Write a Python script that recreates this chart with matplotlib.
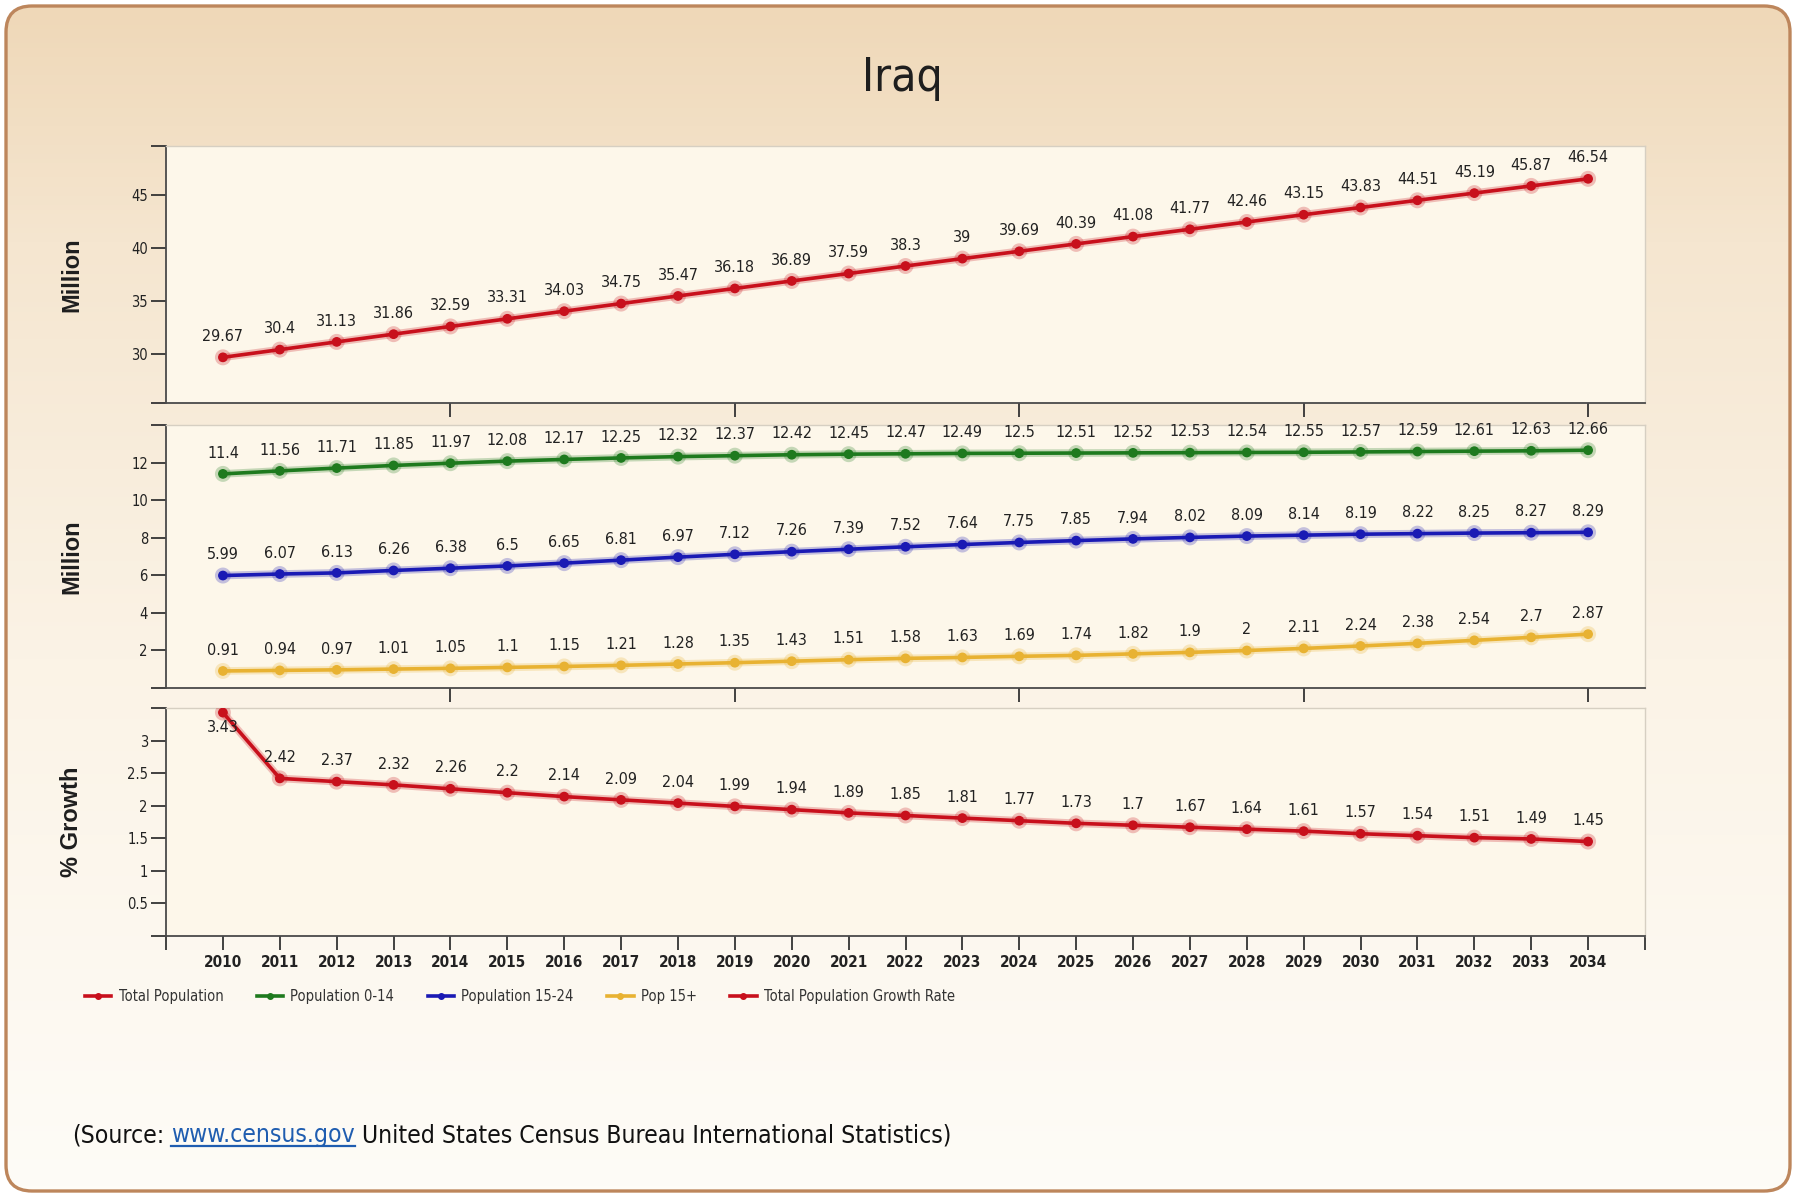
import matplotlib.pyplot as plt
import matplotlib.patheffects as pe
import numpy as np
from matplotlib.patches import FancyBboxPatch
from matplotlib.lines import Line2D
from matplotlib.colors import LinearSegmentedColormap

years = list(range(2010, 2035))

total_pop = [29.67, 30.4, 31.13, 31.86, 32.59, 33.31, 34.03, 34.75, 35.47, 36.18,
             36.89, 37.59, 38.3, 39, 39.69, 40.39, 41.08, 41.77, 42.46, 43.15,
             43.83, 44.51, 45.19, 45.87, 46.54]
pop_0_14 = [11.4, 11.56, 11.71, 11.85, 11.97, 12.08, 12.17, 12.25, 12.32, 12.37,
            12.42, 12.45, 12.47, 12.49, 12.5, 12.51, 12.52, 12.53, 12.54, 12.55,
            12.57, 12.59, 12.61, 12.63, 12.66]
pop_15_24 = [5.99, 6.07, 6.13, 6.26, 6.38, 6.5, 6.65, 6.81, 6.97, 7.12,
             7.26, 7.39, 7.52, 7.64, 7.75, 7.85, 7.94, 8.02, 8.09, 8.14,
             8.19, 8.22, 8.25, 8.27, 8.29]
pop_old = [0.91, 0.94, 0.97, 1.01, 1.05, 1.1, 1.15, 1.21, 1.28, 1.35,
           1.43, 1.51, 1.58, 1.63, 1.69, 1.74, 1.82, 1.9, 2, 2.11,
           2.24, 2.38, 2.54, 2.7, 2.87]
growth_rate = [3.43, 2.42, 2.37, 2.32, 2.26, 2.2, 2.14, 2.09, 2.04, 1.99,
               1.94, 1.89, 1.85, 1.81, 1.77, 1.73, 1.7, 1.67, 1.64, 1.61,
               1.57, 1.54, 1.51, 1.49, 1.45]

legend_names = ["Total Population", "Population 0-14", "Population 15-24",
                "Pop 15+", "Total Population Growth Rate"]

RED = "#c8101c"
GREEN = "#1e7a1e"
BLUE = "#1a1ab4"
GOLD = "#e8b232"

# condensed face if the system has it
plt.rcParams['font.family'] = ['DejaVu Sans']
plt.rcParams['font.stretch'] = 'condensed'

W, H = 1797, 1196
fig = plt.figure(figsize=(W / 100, H / 100), dpi=100)
fig.patch.set_facecolor('white')

# rounded background box with a vertical gradient
bg = fig.add_axes([0, 0, 1, 1], zorder=-5)
bg.set_xlim(0, W)
bg.set_ylim(0, H)
bg.axis('off')
box = FancyBboxPatch((6, 5), 1784, 1185, boxstyle="round,pad=0,rounding_size=26",
                     facecolor='none', edgecolor='#bd865c', linewidth=2.4, zorder=3)
bg.add_patch(box)
grad_cmap = LinearSegmentedColormap.from_list(
    'bgr', [(0, '#fefcf7'), (0.45, '#fbf3e6'), (0.8, '#f5e6d0'), (1, '#efd8b8')])
grad = np.linspace(0, 1, 256).reshape(-1, 1)
im = bg.imshow(grad, extent=(6, 1790, 5, 1190), origin='lower', aspect='auto',
               cmap=grad_cmap, zorder=1)
im.set_clip_path(box)

fig.text(0.502, 0.934, "Iraq", ha='center', va='center', fontsize=33, color='#1e1e1e')

left, width = 0.0924, 0.823
ax1 = fig.add_axes([left, 0.663, width, 0.215])
ax2 = fig.add_axes([left, 0.4247, width, 0.2199])
ax3 = fig.add_axes([left, 0.2174, width, 0.1906])


def style(ax, ylim, yticks, ylabels):
    ax.set_facecolor('#fdf7ea')
    ax.set_xlim(2009, 2035)
    ax.set_ylim(*ylim)
    for s in ['top', 'right']:
        ax.spines[s].set_color('#d6cfc2')
        ax.spines[s].set_linewidth(1.0)
    for s in ['left', 'bottom']:
        ax.spines[s].set_color('#4a4a4a')
        ax.spines[s].set_linewidth(1.3)
    ax.set_yticks(yticks)
    ax.set_yticklabels(ylabels)
    ax.tick_params(axis='y', direction='out', length=11, width=1.3, color='#333333',
                   labelsize=10.5, pad=2, labelcolor='#222222')
    ax.tick_params(axis='x', direction='out', length=10, width=1.3, color='#333333')


def draw(ax, vals, color, off):
    ax.plot(years, vals, color=color, lw=2.6, marker='o', ms=6, zorder=3,
            path_effects=[pe.Stroke(linewidth=5.5, foreground=color, alpha=0.25), pe.Normal()])
    for x, v in zip(years, vals):
        ax.annotate(f"{v:g}", (x, v), xytext=(0, off), textcoords='offset points',
                    ha='center', va='center', fontsize=11.5, color='#222222')


style(ax1, (25.35, 49.65), [25.35, 30, 35, 40, 45, 49.65], ['', '30', '35', '40', '45', ''])
style(ax2, (0, 14), [0, 2, 4, 6, 8, 10, 12, 14], ['', '2', '4', '6', '8', '10', '12', ''])
style(ax3, (0, 3.5), [0, 0.5, 1, 1.5, 2, 2.5, 3, 3.5],
      ['', '0.5', '1', '1.5', '2', '2.5', '3', ''])

for ax in (ax1, ax2):
    ax.set_xticks([2014, 2019, 2024, 2029, 2034])
    ax.set_xticklabels([])

ax3.set_xticks([2009] + years + [2035])
ax3.set_xticklabels([''] + [str(y) for y in years] + [''], fontsize=11,
                    fontweight='bold', color='#222222')

draw(ax1, total_pop, RED, 15)
draw(ax2, pop_0_14, GREEN, 15)
draw(ax2, pop_15_24, BLUE, 15)
draw(ax2, pop_old, GOLD, 15)

ax3.plot(years, growth_rate, color=RED, lw=2.6, marker='o', ms=6, zorder=3,
         path_effects=[pe.Stroke(linewidth=5.5, foreground=RED, alpha=0.25), pe.Normal()])
for i, (x, v) in enumerate(zip(years, growth_rate)):
    off = -11 if i == 0 else 15
    ax3.annotate(f"{v:g}", (x, v), xytext=(0, off), textcoords='offset points',
                 ha='center', va='center', fontsize=11.5, color='#222222')

for ax, lab in ((ax1, "Million"), (ax2, "Million"), (ax3, "% Growth")):
    pos = ax.get_position()
    fig.text(0.040, (pos.y0 + pos.y1) / 2, lab, rotation=90, ha='center', va='center',
             fontsize=17, fontweight='bold', family=['Liberation Sans', 'DejaVu Sans'],
             fontstretch='normal', color='#1e1e1e')

handles = [Line2D([], [], color=c, lw=2.6, marker='o', ms=4)
           for c in (RED, GREEN, BLUE, GOLD, RED)]
fig.legend(handles, legend_names, loc='center left', bbox_to_anchor=(0.040, 0.1664),
           ncol=5, frameon=False, fontsize=10.5, handlelength=1.8, handletextpad=0.5,
           columnspacing=2.3, labelcolor='#333333')

# source line with an underlined link
r = fig.canvas.get_renderer()
y_src = 0.045
src_font = dict(fontsize=17.7, va='baseline')
t1 = fig.text(0.040, y_src, "(Source:", color='#111111', **src_font)
b1 = t1.get_window_extent(r)
t2 = fig.text((b1.x1 + 7) / W, y_src, "www.census.gov", color='#1f5db0', **src_font)
b2 = t2.get_window_extent(r)
fig.add_artist(Line2D([b2.x0 / W, b2.x1 / W], [(b2.y0 + 1) / H] * 2, color='#1f5db0', lw=1.6))
fig.text((b2.x1 + 7) / W, y_src, "United States Census Bureau International Statistics)",
         color='#111111', **src_font)

plt.savefig("out.png", dpi=100)
plt.close()
